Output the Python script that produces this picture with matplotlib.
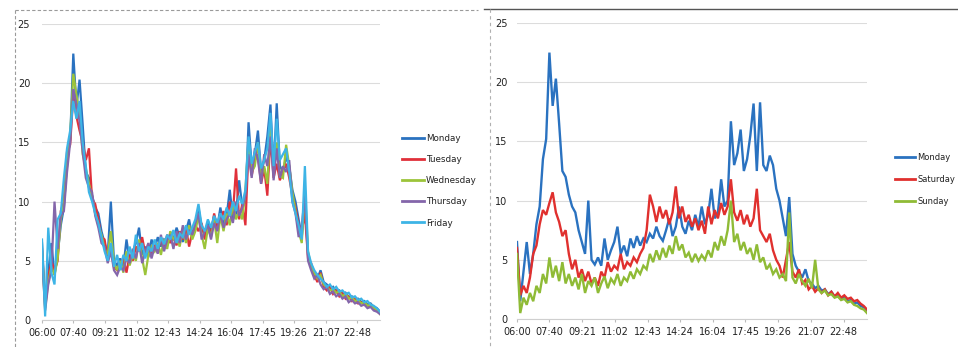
import matplotlib
matplotlib.use("Agg")
import matplotlib.pyplot as plt
from matplotlib.lines import Line2D

# ---------------- data (10-minute samples, 06:00 .. 24:00) ----------------
start_time = "06:00"
step_minutes = 10

tick_labels = ["06:00", "07:40", "09:21", "11:02", "12:43", "14:24",
               "16:04", "17:45", "19:26", "21:07", "22:48"]

monday = [
    6.5, 1.5, 4.0, 6.5, 3.8, 5.5, 8.0, 9.5, 13.5, 15.2,
    22.5, 18.0, 20.3, 16.5, 12.5, 12.0, 10.5, 9.5, 9.0, 7.5,
    6.5, 5.5, 10.0, 5.0, 4.6, 5.2, 4.5, 6.8, 5.0, 5.8,
    6.5, 7.8, 5.5, 6.2, 5.3, 6.8, 6.0, 7.0, 6.2, 6.8,
    6.5, 7.2, 6.8, 7.8, 7.0, 6.6, 7.5, 8.5, 7.0, 7.8,
    9.5, 7.8, 7.2, 8.3, 7.5, 8.8, 7.8, 9.5, 8.0, 8.8,
    11.0, 8.5, 9.0, 11.8, 9.5, 10.0, 16.7, 13.0, 14.0, 16.0,
    12.5, 13.5, 15.5, 18.2, 12.5, 18.3, 13.0, 12.5, 13.8, 13.0,
    11.0, 10.0, 8.5, 7.0, 10.3, 5.5, 4.5, 4.0, 3.5, 4.2,
    3.2, 3.0, 2.6, 2.8, 2.4, 2.5, 2.1, 2.3, 1.9, 2.0,
    1.7, 1.8, 1.5, 1.6, 1.3, 1.4, 1.1, 1.0, 0.7]

tuesday = [
    6.0, 1.2, 3.6, 5.0, 4.2, 5.0, 9.2, 10.0, 14.2, 14.8,
    19.0, 17.2, 16.0, 15.0, 13.5, 14.5, 10.2, 9.8, 8.5, 7.0,
    6.8, 5.2, 6.0, 4.5, 4.2, 4.8, 5.2, 4.0, 5.5, 5.0,
    6.2, 5.8, 7.0, 5.6, 6.2, 5.5, 6.3, 5.8, 6.9, 6.0,
    7.2, 6.5, 7.0, 6.3, 7.5, 6.8, 7.8, 6.2, 7.4, 8.0,
    7.5, 8.2, 6.8, 8.0, 7.2, 9.0, 7.8, 8.5, 9.2, 8.0,
    10.0, 9.0, 12.8, 8.5, 9.8, 8.0, 14.5, 12.2, 13.5, 14.0,
    11.5, 12.8, 10.5, 15.5, 12.0, 13.2, 11.8, 12.5, 13.2, 12.0,
    10.5, 9.5, 8.0, 7.5, 9.0, 5.2, 4.8, 3.8, 3.2, 4.0,
    2.8, 2.5, 2.8, 2.2, 2.5, 2.0, 2.3, 1.8, 2.0, 1.6,
    1.8, 1.4, 1.5, 1.3, 1.1, 1.2, 0.9, 0.8, 0.6]

wednesday = [
    5.8, 1.0, 3.2, 4.5, 3.8, 5.2, 8.5, 9.8, 13.0, 15.5,
    20.8, 19.0, 17.5, 14.0, 12.8, 11.5, 10.5, 9.0, 8.0, 7.2,
    6.0, 5.5, 7.5, 4.8, 4.2, 5.0, 4.0, 5.8, 4.6, 5.5,
    5.0, 6.8, 5.2, 3.8, 5.5, 6.2, 5.8, 6.5, 5.5, 6.8,
    6.0, 7.5, 6.8, 7.0, 6.2, 7.8, 6.5, 8.0, 6.8, 7.5,
    8.8, 7.2, 6.0, 7.8, 7.0, 8.5, 6.5, 8.8, 7.5, 9.0,
    8.0, 9.8, 8.5, 9.2, 8.5, 11.0, 15.2, 12.5, 13.0, 15.0,
    12.0, 13.0, 11.5, 16.5, 12.8, 15.0, 12.2, 12.0, 14.8, 13.0,
    10.8, 9.2, 7.5, 6.5, 11.0, 5.8, 4.5, 4.0, 3.5, 3.8,
    3.0, 2.8, 2.5, 2.6, 2.3, 2.4, 2.0, 2.2, 1.8, 1.9,
    1.6, 1.7, 1.4, 1.5, 1.2, 1.3, 1.0, 0.9, 0.5]

thursday = [
    5.5, 0.8, 3.0, 4.2, 10.0, 6.0, 8.8, 9.2, 12.5, 15.0,
    19.5, 18.2, 16.8, 14.2, 12.0, 11.2, 10.8, 8.8, 7.8, 6.5,
    6.2, 4.8, 5.8, 4.2, 3.8, 4.5, 4.2, 5.2, 4.8, 6.0,
    5.2, 6.5, 4.8, 5.8, 6.5, 5.2, 6.2, 5.6, 7.2, 5.8,
    6.8, 7.2, 6.0, 7.5, 6.5, 8.0, 6.8, 7.6, 7.2, 8.2,
    9.0, 6.8, 7.5, 8.0, 6.8, 8.2, 7.5, 9.0, 7.8, 8.5,
    9.0, 8.2, 10.0, 8.8, 9.5, 10.5, 14.0, 12.0, 14.5, 13.5,
    11.5, 14.0, 13.0, 15.5, 11.8, 14.5, 12.0, 13.0, 12.5, 13.5,
    10.0, 9.0, 7.0, 8.0, 10.5, 5.0, 4.2, 3.5, 3.8, 3.0,
    2.6, 2.8, 2.2, 2.4, 2.0, 2.2, 1.8, 2.0, 1.5, 1.7,
    1.4, 1.5, 1.2, 1.3, 1.0, 1.1, 0.8, 0.7, 0.5]

friday = [
    6.8, 0.3, 7.8, 4.0, 3.0, 8.5, 9.0, 12.0, 14.5, 16.0,
    18.5, 17.0, 18.5, 15.0, 13.0, 10.8, 10.0, 9.0, 8.2, 7.0,
    5.8, 5.0, 6.5, 4.5, 5.5, 4.2, 5.5, 5.0, 6.2, 5.2,
    7.2, 5.8, 6.5, 5.2, 6.2, 5.8, 6.8, 6.0, 7.0, 6.4,
    7.2, 6.8, 7.6, 6.5, 7.3, 7.0, 8.0, 7.2, 7.8, 8.5,
    9.8, 8.0, 7.5, 8.5, 7.8, 8.8, 8.2, 9.0, 8.5, 9.5,
    8.8, 10.0, 9.2, 10.5, 9.8, 11.0, 15.5, 13.2, 14.2, 15.0,
    12.8, 13.5, 14.5, 17.5, 13.0, 17.0, 13.5, 14.0, 14.5, 12.5,
    10.0, 9.0, 8.0, 6.8, 13.0, 5.8, 4.8, 4.2, 3.8, 3.5,
    3.2, 2.8, 3.0, 2.6, 2.8, 2.4, 2.5, 2.2, 2.3, 1.9,
    2.0, 1.7, 1.8, 1.5, 1.6, 1.3, 1.2, 1.0, 0.7]

saturday = [
    6.0, 2.0, 2.8, 2.2, 3.5, 5.5, 6.2, 8.0, 9.2, 8.8,
    9.8, 10.7, 9.0, 8.2, 7.0, 7.5, 5.5, 4.2, 5.0, 3.5,
    4.2, 3.2, 4.0, 3.0, 3.5, 2.8, 4.0, 3.5, 4.8, 4.0,
    4.5, 4.2, 5.5, 4.2, 4.8, 4.5, 5.2, 4.8, 5.5, 6.0,
    7.5, 10.5, 9.5, 8.2, 9.5, 8.5, 9.2, 8.0, 9.0, 11.2,
    8.5, 9.5, 8.2, 8.8, 7.8, 8.5, 7.5, 8.3, 7.2, 9.5,
    8.0, 9.2, 8.5, 9.8, 8.8, 9.5, 11.8, 9.0, 8.3, 9.2,
    8.0, 8.8, 7.8, 8.5, 11.0, 7.5, 7.0, 6.5, 7.2, 5.8,
    5.0, 4.5, 3.5, 5.0, 6.5, 4.0, 3.5, 4.2, 3.0, 3.3,
    2.5, 2.8, 2.3, 2.6, 2.2, 2.5, 2.0, 2.3, 1.9, 2.2,
    1.8, 2.0, 1.7, 1.8, 1.5, 1.6, 1.3, 1.1, 0.8]

sunday = [
    5.5, 0.5, 1.8, 1.2, 2.2, 1.5, 2.8, 2.2, 3.8, 3.0,
    5.2, 3.5, 4.5, 3.2, 4.8, 3.0, 3.8, 2.8, 3.5, 2.5,
    3.8, 2.2, 3.2, 2.8, 3.5, 2.2, 3.0, 3.6, 2.6, 3.4,
    3.0, 3.8, 2.8, 3.5, 3.2, 4.0, 3.4, 4.2, 3.8, 4.5,
    4.2, 5.5, 4.8, 5.8, 5.0, 6.0, 5.2, 6.2, 5.5, 7.0,
    5.8, 6.3, 5.2, 5.6, 4.8, 5.5, 4.9, 5.4, 5.0, 5.8,
    5.2, 6.5, 5.8, 7.0, 6.2, 7.5, 10.0, 6.5, 7.2, 5.8,
    6.5, 5.5, 6.0, 5.0, 6.3, 4.8, 5.2, 4.2, 4.6, 3.8,
    4.2, 3.5, 3.8, 3.2, 9.0, 3.5, 3.0, 3.8, 3.2, 2.8,
    3.4, 2.6, 5.0, 2.5, 2.2, 2.4, 2.0, 2.1, 1.8, 1.9,
    1.6, 1.7, 1.4, 1.5, 1.2, 1.1, 0.9, 0.8, 0.5]

left_series = [("Monday", monday), ("Tuesday", tuesday), ("Wednesday", wednesday),
               ("Thursday", thursday), ("Friday", friday)]
right_series = [("Monday", monday), ("Saturday", saturday), ("Sunday", sunday)]

colors = {"Monday": "#2a72c0", "Tuesday": "#e0303a", "Wednesday": "#9cc43a",
          "Thursday": "#8466aa", "Friday": "#3db4e6",
          "Saturday": "#e0302e", "Sunday": "#8fbb36"}


def to_min(s):
    h, m = s.split(":")
    return int(h) * 60 + int(m)


t0 = to_min(start_time)

fig = plt.figure(figsize=(9.58, 3.47), dpi=100)
W, H = 958.0, 347.0


def make_axes(x0, x1, y_top, y_bot):
    return fig.add_axes([x0 / W, (H - y_bot) / H, (x1 - x0) / W, (y_bot - y_top) / H])


axL = make_axes(42, 380, 24, 320)
axR = make_axes(517, 867, 23, 319)

for ax, series, lw, ypad in ((axL, left_series, 1.6, 8.5), (axR, right_series, 1.7, 7.0)):
    for name, vals in series:
        xs = [t0 + step_minutes * i for i in range(len(vals))]
        ax.plot(xs, vals, color=colors[name], lw=lw, label=name, solid_joinstyle="miter")
    ax.set_ylim(0, 25)
    ax.set_xlim(t0, t0 + step_minutes * (len(monday) - 1))
    ax.set_yticks([0, 5, 10, 15, 20, 25])
    ax.set_xticks([to_min(s) for s in tick_labels])
    ax.set_xticklabels(tick_labels)
    ax.grid(axis="y", color="#dcdcdc", lw=0.8)
    ax.set_axisbelow(True)
    for sp in ("top", "right", "left"):
        ax.spines[sp].set_visible(False)
    ax.spines["bottom"].set_color("#cfcfcf")
    ax.tick_params(axis="x", length=2, color="#bbbbbb", labelsize=7, pad=4, labelcolor="#222222")
    ax.tick_params(axis="y", length=0, labelsize=7, pad=ypad, labelcolor="#222222")

legL = axL.legend(loc="center left", bbox_to_anchor=(1.06, 0.47), frameon=False,
                  fontsize=6.3, handlelength=2.5, handletextpad=0.25, labelspacing=1.38,
                  borderpad=0.2, borderaxespad=0)
legR = axR.legend(loc="center left", bbox_to_anchor=(1.075, 0.472), frameon=False,
                  fontsize=6.0, handlelength=2.4, handletextpad=0.25, labelspacing=1.55,
                  borderpad=0.2, borderaxespad=0)
for leg in (legL, legR):
    for t in leg.get_texts():
        t.set_color("#222222")
    for h in leg.get_lines():
        h.set_linewidth(2.0)

# chart box edges visible in the scan
def fline(xa, ya, xb, yb, **kw):
    fig.add_artist(Line2D([xa / W, xb / W], [(H - ya) / H, (H - yb) / H], **kw))

fline(15, 10, 478, 10, color="#9a9a9a", lw=0.8, ls=(0, (3, 2)))
fline(15, 10, 15, 347, color="#9a9a9a", lw=0.8, ls=(0, (3, 2)))
fline(484, 9, 958, 9, color="#555555", lw=1.0)
fline(490, 9, 490, 347, color="#b0b0b0", lw=0.8, ls=(0, (3, 3)))

fig.savefig("out.png", dpi=100)
